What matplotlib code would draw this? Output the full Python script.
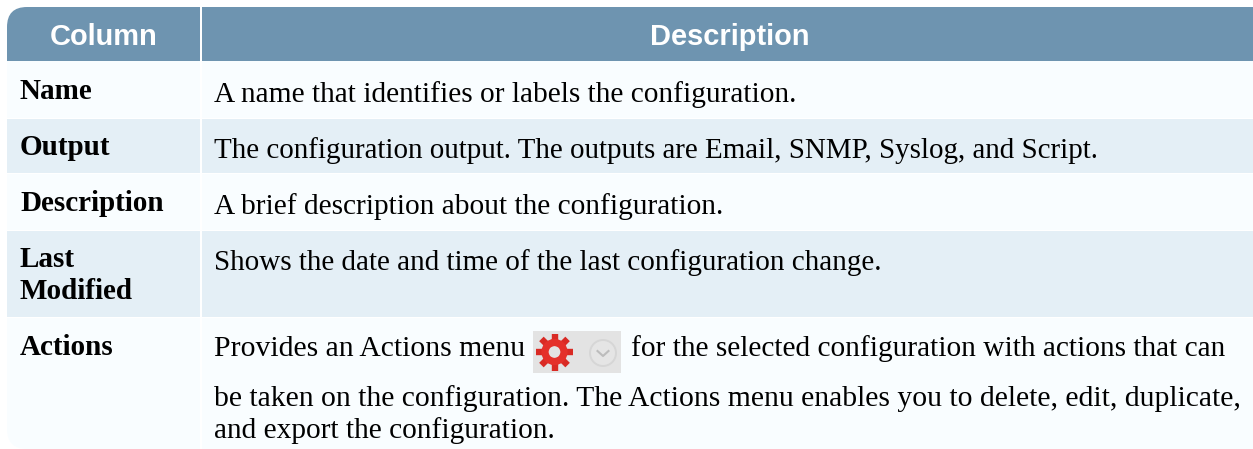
import matplotlib
matplotlib.use("Agg")
import matplotlib.pyplot as plt
from matplotlib.patches import Rectangle, FancyBboxPatch, Circle
import numpy as np

W, H = 1253, 449
headers = ["Column", "Description"]
names = [["Name"], ["Output"], ["Description"], ["Last", "Modified"], ["Actions"]]
descs = [
    ["A name that identifies or labels the configuration."],
    ["The configuration output. The outputs are Email, SNMP, Syslog, and Script."],
    ["A brief description about the configuration."],
    ["Shows the date and time of the last configuration change."],
    ["Provides an Actions menu",
     "be taken on the configuration. The Actions menu enables you to delete, edit, duplicate,",
     "and export the configuration."],
]
desc_tail = "for the selected configuration with actions that can"
row_tops = [61, 119, 174, 231, 318]
row_bottoms = [118, 173, 230, 317, 449]
name_base = [[99], [155], [211], [267, 299], [355]]
desc_base = [[102], [158], [214], [270], [356, 406, 438]]
desc_size = [[21.2], [20.85], [21.15], [21.0], [21.35, 21.35, 21.15]]
row_colors = ["#f9fdff", "#e4eff6"]
header_color = "#6e94b0"

fig = plt.figure(figsize=(W / 100, H / 100), dpi=100, facecolor="white")
ax = fig.add_axes([0, 0, 1, 1])
ax.set_xlim(0, W)
ax.set_ylim(H, 0)
ax.axis("off")

X0, X1, XL, XR = 7, 1253, 200, 202
clip = FancyBboxPatch((X0, 7), W + 30 - X0, 442,
                      boxstyle="round,pad=0,rounding_size=20", transform=ax.transData,
                      fc="none", ec="none")
ax.add_patch(clip)


def cell(x0, x1, y0, y1, color):
    r = Rectangle((x0, y0), x1 - x0, y1 - y0, fc=color, ec="none", zorder=1)
    ax.add_patch(r)
    r.set_clip_path(clip)


cell(X0, XL, 7, 61, header_color)
cell(XR, X1, 7, 61, header_color)
for i in range(5):
    c = row_colors[i % 2]
    cell(X0, XL, row_tops[i], row_bottoms[i], c)
    cell(XR, X1, row_tops[i], row_bottoms[i], c)

ax.text(103.5, 45, headers[0], ha="center", va="baseline", color="white",
        family="Liberation Sans", weight="bold", fontsize=20.9, zorder=3)
ax.text(729.5, 45, headers[1], ha="center", va="baseline", color="white",
        family="Liberation Sans", weight="bold", fontsize=20.9, zorder=3)

for lines, ys in zip(names, name_base):
    for s, y in zip(lines, ys):
        ax.text(20, y, s, ha="left", va="baseline", color="black",
                family="Liberation Serif", weight="bold", fontsize=21.0, zorder=3)
for lines, ys, sizes in zip(descs, desc_base, desc_size):
    for s, y, fs in zip(lines, ys, sizes):
        ax.text(214, y, s, ha="left", va="baseline", color="black",
                family="Liberation Serif", fontsize=fs, zorder=3)
ax.text(631, 356, desc_tail, ha="left", va="baseline", color="black",
        family="Liberation Serif", fontsize=21.15, zorder=3)

# Actions menu icon
ax.add_patch(Rectangle((533, 331), 88, 42, fc="#e3e3e3", ec="none", zorder=2))
gx, gy = 554.5, 352
for a in np.arange(0, 360, 45):
    t = np.radians(a)
    ax.plot([gx + 11 * np.cos(t), gx + 18.5 * np.cos(t)],
            [gy + 11 * np.sin(t), gy + 18.5 * np.sin(t)],
            color="#d92a24", lw=4.6, solid_capstyle="butt", zorder=3)
ax.add_patch(Circle((gx, gy), 9.5, fc="#e3e3e3", ec="#e4302a", lw=5.2, zorder=4))
ax.add_patch(Circle((603, 353), 13, fc="#e5e5e5", ec="#d6d6d6", lw=1.4, zorder=3))
ax.plot([597.5, 603, 608.5], [351, 356, 351], color="#bcbcbc", lw=1.5, zorder=4)

fig.savefig("out.png", dpi=100, facecolor="white")
